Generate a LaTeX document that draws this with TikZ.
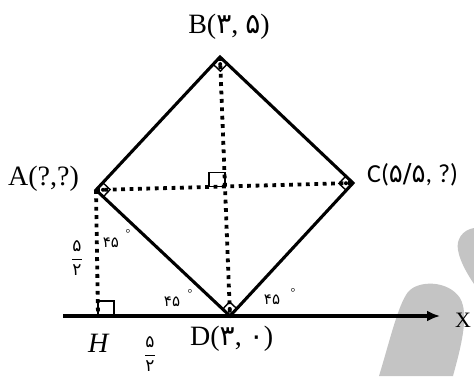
\documentclass[tikz,border=0pt]{standalone}
\usepackage{fontspec}
\setmainfont{Liberation Serif}
\newfontfamily\pf[Script=Arabic]{DejaVu Sans}
\newfontfamily\cf{Carlito}
\usetikzlibrary{calc,arrows.meta}
\begin{document}
\begin{tikzpicture}[x=1pt,y=-1pt,
  side/.style={line width=3.1pt, line join=miter},
  dots/.style={line width=3.8pt, dash pattern=on 3.8pt off 4.6pt},
  thinline/.style={line width=1.4pt},
  lab/.style={inner sep=0pt, anchor=base west, font=\fontsize{28}{30}\selectfont},
  ang/.style={inner sep=0pt, font=\pf\fontsize{15}{15}\selectfont},
  degr/.style={inner sep=0pt, font=\fontsize{12}{12}\selectfont},
  frc/.style={inner sep=0pt, font=\fontsize{17}{17}\selectfont}]
\useasboundingbox (0,0) rectangle (474,376);
% watermark shapes
\fill[black!23] (379,376) .. controls (390,340) and (398,305) .. (408,292)
  .. controls (418,280) and (448,280) .. (460,298)
  .. controls (470,315) and (460,350) .. (453,376) -- cycle;
\fill[black!23] (474,228) .. controls (462,230) and (456,240) .. (458,250)
  .. controls (460,262) and (468,275) .. (474,284) -- cycle;
% points
\coordinate (A) at (96,190);
\coordinate (B) at (220,57);
\coordinate (C) at (353,183);
\coordinate (D) at (230,316);
\coordinate (H) at (98,316);
\coordinate (xs) at (63,316);
\coordinate (xe) at (440,316);
\coordinate (O) at (intersection of A--C and B--D);
% dotted lines
\draw[dots] (A) -- (C);
\draw[dots] (B) -- (D);
\draw[dots] (A) -- (H);
% axis
\draw[line width=3.4pt, -{Latex[length=13pt,width=11pt]}] (xs) -- (xe);
% square
\draw[side] (A) -- (B) -- (C) -- (D) -- cycle;
% right-angle marks at vertices
\foreach \v/\p/\q in {B/A/C, A/B/D, C/B/D, D/A/C} {
  \coordinate (m1) at ($(\v)!10pt!(\p)$);
  \coordinate (m2) at ($(\v)!10pt!(\q)$);
  \draw[thinline] (m1) -- ($(m1)+(m2)-(\v)$) -- (m2);
  \fill ($(m1)!0.5!(m2)$) circle (2pt);
}
% centre and H right angles
\draw[thinline] (O) rectangle ++(-16,-14);
\draw[thinline] (H) rectangle ++(16,-15);
% labels
\node[lab] (lA) at (8,185) {A(?,?)};
\node[lab, anchor=base] (lB) at (229,33) {B({\pf ۳}, {\pf ۵})};
\node[lab, font=\cf\fontsize{26}{28}\selectfont] (lC) at (367,182) {C({\pf ۵/۵}, ?)};
\node[lab] (lD) at (190,345) {D({\pf ۳}, {\pf ۰})};
\node[lab, font=\fontsize{22}{24}\selectfont] (lX) at (455,327) {X};
\node[lab, font=\itshape\fontsize{28}{30}\selectfont] (lH) at (88,352) {H};
% 45 degree labels
\node[ang] (g1) at (111,243) {۴۵};
\node[degr] (d1) at (128,234) {°};
\node[ang] (g2) at (172,302) {۴۵};
\node[degr] (d2) at (190,294) {°};
\node[ang] (g3) at (272,300) {۴۵};
\node[degr] (d3) at (293,293) {°};
% fractions
\node[frc] (f1) at (77,258) {$\displaystyle\frac{\hbox{\pf ۵}}{\hbox{\pf ۲}}$};
\node[frc] (f2) at (150,354) {$\displaystyle\frac{\hbox{\pf ۵}}{\hbox{\pf ۲}}$};
\end{tikzpicture}
\end{document}
